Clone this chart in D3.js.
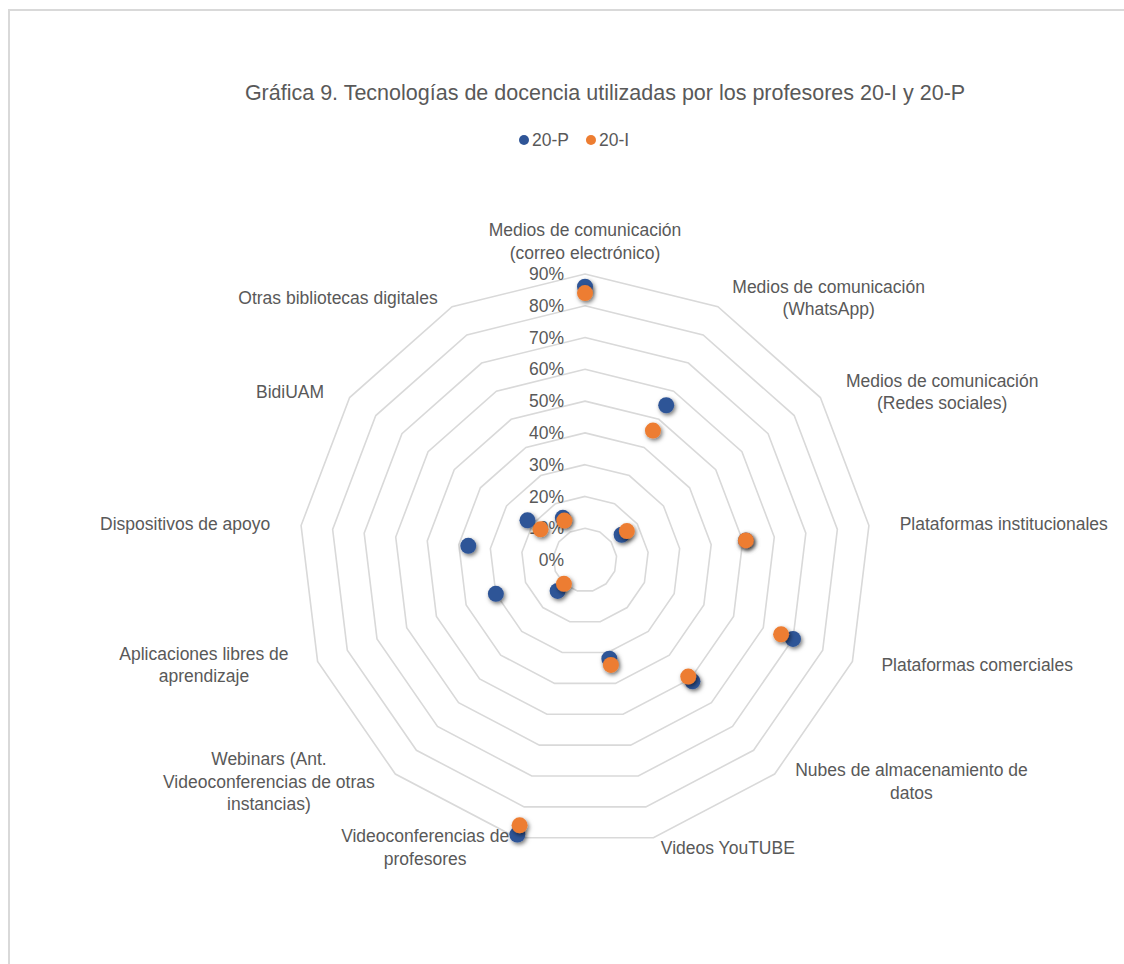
<!DOCTYPE html>
<html>
<head>
<meta charset="utf-8">
<script src="https://cdn.jsdelivr.net/npm/d3@7"></script>
<style>
  body { margin: 0; background: #fff; }
  text { font-family: "Liberation Sans", Arial, sans-serif; fill: #595959; }
</style>
</head>
<body>
<script>
const WIDTH = 1124
const HEIGHT = 964

// categories (line breaks as the wrapped labels read)
const categories = [
  "Medios de comunicación\n(correo electrónico)",
  "Medios de comunicación\n(WhatsApp)",
  "Medios de comunicación\n(Redes sociales)",
  "Plataformas institucionales",
  "Plataformas comerciales",
  "Nubes de almacenamiento de\ndatos",
  "Videos YouTUBE",
  "Videoconferencias de\nprofesores",
  "Webinars (Ant.\nVideoconferencias de otras\ninstancias)",
  "Aplicaciones libres de\naprendizaje",
  "Dispositivos de apoyo",
  "BidiUAM",
  "Otras bibliotecas digitales"
]
const serieP = [0.86, 0.55, 0.14, 0.51, 0.70, 0.51, 0.32, 0.89, 0.13, 0.30, 0.37, 0.22, 0.15]
const serieI = [0.84, 0.46, 0.16, 0.51, 0.66, 0.49, 0.34, 0.86, 0.10, null, null, 0.17, 0.14]
const ticks = [0, 0.1, 0.2, 0.3, 0.4, 0.5, 0.6, 0.7, 0.8, 0.9]
const seriesNames = ["20-P", "20-I"]
const colors = ["#2F5597", "#ED7D31"]

const cx = 585, cy = 560, R = 286
const LABEL_FONT = 17.5

var svg = d3.select("body").append("svg")
    .attr("width", WIDTH)
    .attr("height", HEIGHT)

var defs = svg.append("defs")
var shadow = defs.append("filter").attr("id", "shadow")
    .attr("x", "-50%").attr("y", "-50%").attr("width", "200%").attr("height", "200%")
shadow.append("feDropShadow")
    .attr("dx", 1.5).attr("dy", 2)
    .attr("stdDeviation", 2)
    .attr("flood-color", "#000")
    .attr("flood-opacity", 0.55)

// chart border
svg.append("rect")
    .attr("x", 9).attr("y", 10)
    .attr("width", WIDTH + 20).attr("height", HEIGHT + 20)
    .attr("fill", "none")
    .attr("stroke", "#d9d9d9")
    .attr("stroke-width", 2)

var r = d3.scaleLinear().domain([0, 0.9]).range([0, R])
var angle = d3.scaleLinear().domain([0, categories.length]).range([0, 2 * Math.PI])

function pt(i, v) {
  var a = angle(i)
  return [cx + r(v) * Math.sin(a), cy - r(v) * Math.cos(a)]
}

// title
svg.append("text")
    .attr("x", 605).attr("y", 92)
    .attr("dy", "0.35em")
    .attr("text-anchor", "middle")
    .style("font-size", "21.5px")
    .text("Gráfica 9. Tecnologías de docencia utilizadas por los profesores 20-I y 20-P")

// legend
var legend = svg.append("g")
var lx = 524
seriesNames.forEach(function(name, k) {
  var g = legend.append("g").attr("transform", "translate(" + lx + ",140)")
  g.append("circle").attr("r", 5).attr("fill", colors[k])
  var t = g.append("text").attr("x", 8).attr("dy", "0.35em")
      .style("font-size", LABEL_FONT + "px").text(name)
  lx += 8 + t.node().getComputedTextLength() + 22
})

// grid rings (no spokes)
var line = d3.line()
ticks.slice(1).forEach(function(tv) {
  var pts = categories.map(function(c, i) { return pt(i, tv) })
  svg.append("path")
      .attr("d", line(pts) + "Z")
      .attr("fill", "none")
      .attr("stroke", "#d9d9d9")
      .attr("stroke-width", 1.6)
})

// tick labels along the top axis
svg.append("g").selectAll("text")
    .data(ticks)
    .join("text")
    .attr("x", cx - 21)
    .attr("y", function(d) { return cy - r(d) })
    .attr("dy", "0.35em")
    .attr("text-anchor", "end")
    .style("font-size", LABEL_FONT + "px")
    .text(function(d) { return d3.format(".0%")(d) })

// category labels
var LINE_H = 22.5
categories.forEach(function(c, i) {
  var a = angle(i)
  var s = Math.sin(a), co = Math.cos(a)
  var lines = c.split("\n")
  var g = svg.append("g")
  var texts = lines.map(function(l) {
    return g.append("text")
        .attr("text-anchor", "middle")
        .attr("dy", "0.35em")
        .style("font-size", LABEL_FONT + "px")
        .text(l)
  })
  var w = d3.max(texts, function(t) { return t.node().getComputedTextLength() })
  var x0 = cx + (R + 31) * s
  var y0 = cy - (R + 10) * co
  var bx
  if (Math.abs(s) < 0.05) {
    bx = x0
    y0 = y0 - lines.length * LINE_H / 2
  } else if (s > 0) {
    bx = x0 + w / 2
  } else {
    bx = x0 - w / 2
  }
  texts.forEach(function(t, k) {
    t.attr("x", bx).attr("y", y0 + (k - (lines.length - 1) / 2) * LINE_H)
  })
})

// points
;[serieP, serieI].forEach(function(serie, k) {
  svg.append("g").selectAll("circle")
      .data(serie.map(function(v, i) { return {i: i, v: v} }).filter(function(d) { return d.v != null }))
      .join("circle")
      .attr("cx", function(d) { return pt(d.i, d.v)[0] })
      .attr("cy", function(d) { return pt(d.i, d.v)[1] })
      .attr("r", 8)
      .attr("fill", colors[k])
      .attr("filter", "url(#shadow)")
})
</script>
</body>
</html>
